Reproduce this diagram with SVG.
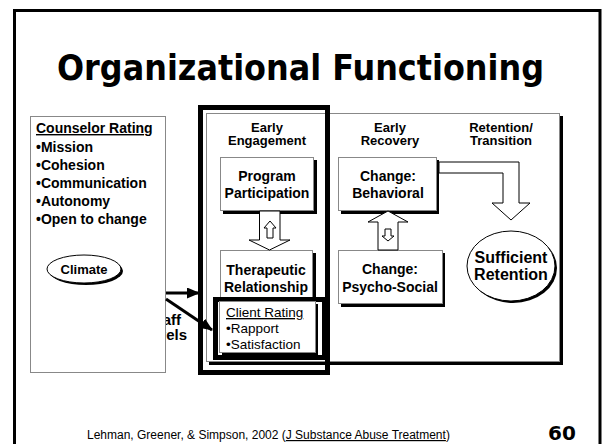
<svg xmlns="http://www.w3.org/2000/svg" width="603" height="444" viewBox="0 0 603 444">
<defs>
<marker id="ah" markerWidth="13" markerHeight="11" refX="12" refY="5.5" orient="auto" markerUnits="userSpaceOnUse">
<path d="M0,0 L13,5.5 L0,11 Z" fill="#000"/>
</marker>
</defs>
<style>
text{font-family:"Liberation Sans",Arial,sans-serif;fill:#000}
.b{font-weight:bold}
.box{fill:#fff;stroke:#888;stroke-width:1}
.sh{fill:#000}
.blk{fill:#fff;stroke:#000;stroke-width:1}
.hdr{font-size:13px;font-weight:bold;text-anchor:middle}
.nt{font-size:14px;font-weight:bold;text-anchor:middle}
.cr{font-size:14px;font-weight:bold}
</style>
<rect width="603" height="444" fill="#fff"/>
<path d="M14.5,444 V10.5 H600 V444" fill="none" stroke="#000" stroke-width="3"/>
<text x="57" y="80" style="font-family:'DejaVu Sans',sans-serif" font-size="35" font-weight="bold" textLength="487" lengthAdjust="spacingAndGlyphs">Organizational Functioning</text>

<g id="staff-levels">
<text class="b" x="181" y="325" font-size="15" text-anchor="end">Staff</text>
<text class="b" x="187" y="340" font-size="15" text-anchor="end">Levels</text>
</g>

<g id="counselor-rating">
<rect x="30.5" y="116.5" width="135" height="256" class="box" stroke="#555"/>
<text class="cr" x="36" y="133" text-decoration="underline">Counselor Rating</text>
<text class="cr" x="36" y="152">•Mission</text>
<text class="cr" x="36" y="170">•Cohesion</text>
<text class="cr" x="36" y="188">•Communication</text>
<text class="cr" x="36" y="206">•Autonomy</text>
<text class="cr" x="36" y="224">•Open to change</text>
</g>

<g id="climate">
<ellipse cx="86" cy="271" rx="37" ry="14" class="sh"/>
<ellipse cx="84" cy="269" rx="37" ry="14" class="blk"/>
<text class="b" x="84" y="274" font-size="13" text-anchor="middle">Climate</text>
</g>

<g id="stages">
<rect x="209" y="116" width="354" height="249" class="sh"/>
<rect x="206.5" y="113.5" width="353" height="248" class="box"/>
<text class="hdr" x="267" y="132">Early</text>
<text class="hdr" x="267" y="145">Engagement</text>
<text class="hdr" x="390" y="132">Early</text>
<text class="hdr" x="390" y="145">Recovery</text>
<text class="hdr" x="501" y="132">Retention/</text>
<text class="hdr" x="501" y="145">Transition</text>
</g>

<g id="program-participation">
<rect x="223" y="160" width="94" height="54" class="sh"/>
<rect x="220.5" y="157.5" width="93" height="53" class="box"/>
<text class="nt" x="267" y="181">Program</text>
<text class="nt" x="267" y="198">Participation</text>
</g>

<g id="therapeutic-relationship">
<rect x="223" y="253" width="93" height="53" class="sh"/>
<rect x="220.5" y="250.5" width="92" height="52" class="box"/>
<text class="nt" x="266" y="275">Therapeutic</text>
<text class="nt" x="266" y="292">Relationship</text>
</g>

<g id="client-rating">
<rect x="215.5" y="299.5" width="109" height="58" fill="none" stroke="#000" stroke-width="5"/>
<rect x="222" y="304" width="96" height="51" class="sh"/>
<rect x="219.5" y="301.5" width="96" height="51" class="box"/>
<text x="226" y="317" font-size="13.5" text-decoration="underline">Client Rating</text>
<text x="226" y="333" font-size="13.5">•Rapport</text>
<text x="226" y="349" font-size="13.5">•Satisfaction</text>
</g>

<g id="early-engagement-frame">
<rect x="200.5" y="107.5" width="127" height="265" fill="none" stroke="#000" stroke-width="5"/>
</g>

<g id="change-behavioral">
<rect x="341" y="160" width="98" height="54" class="sh"/>
<rect x="338.5" y="157.5" width="98" height="53" class="box"/>
<text class="nt" x="388" y="181">Change:</text>
<text class="nt" x="388" y="198">Behavioral</text>
</g>

<g id="change-psycho-social">
<rect x="341" y="253" width="104" height="54" class="sh"/>
<rect x="338.5" y="250.5" width="104" height="53" class="box"/>
<text class="nt" x="390" y="274">Change:</text>
<text class="nt" x="390" y="292">Psycho-Social</text>
</g>

<g id="sufficient-retention">
<ellipse cx="513" cy="268" rx="44" ry="35" class="sh"/>
<ellipse cx="511" cy="266" rx="44" ry="35" class="blk"/>
<text class="b" x="511" y="263" font-size="16" text-anchor="middle">Sufficient</text>
<text class="b" x="511" y="280" font-size="16" text-anchor="middle">Retention</text>
</g>

<g id="connectors" fill="#fff" stroke="#000" stroke-width="1">
<line x1="166" y1="293" x2="199" y2="293" stroke-width="3" marker-end="url(#ah)"/>
<line x1="166" y1="299" x2="212" y2="330" stroke-width="3" marker-end="url(#ah)"/>
<path d="M259.5,211 V240 H249 L269.5,250 L290,240 H280 V211 Z"/>
<path d="M270,221 L276,228 H273 V238 H267 V228 H264 Z"/>
<path d="M378,250 V222 H368 L388,211 L408,222 H398 V250 Z"/>
<path d="M385,229 H391 V236 H394 L388,241 L382,236 H385 Z"/>
<path d="M439,162 H519 V203 H530 L511,220 L492,203 H503 V173 H439 Z"/>
</g>

<g id="footer">
<text x="87" y="439" font-size="12">Lehman, Greener, &amp; Simpson, 2002 (<tspan text-decoration="underline">J Substance Abuse Treatment</tspan>)</text>
<text x="548" y="440" font-size="20" font-weight="bold" style="font-family:'DejaVu Sans',sans-serif">60</text>
</g>
</svg>
